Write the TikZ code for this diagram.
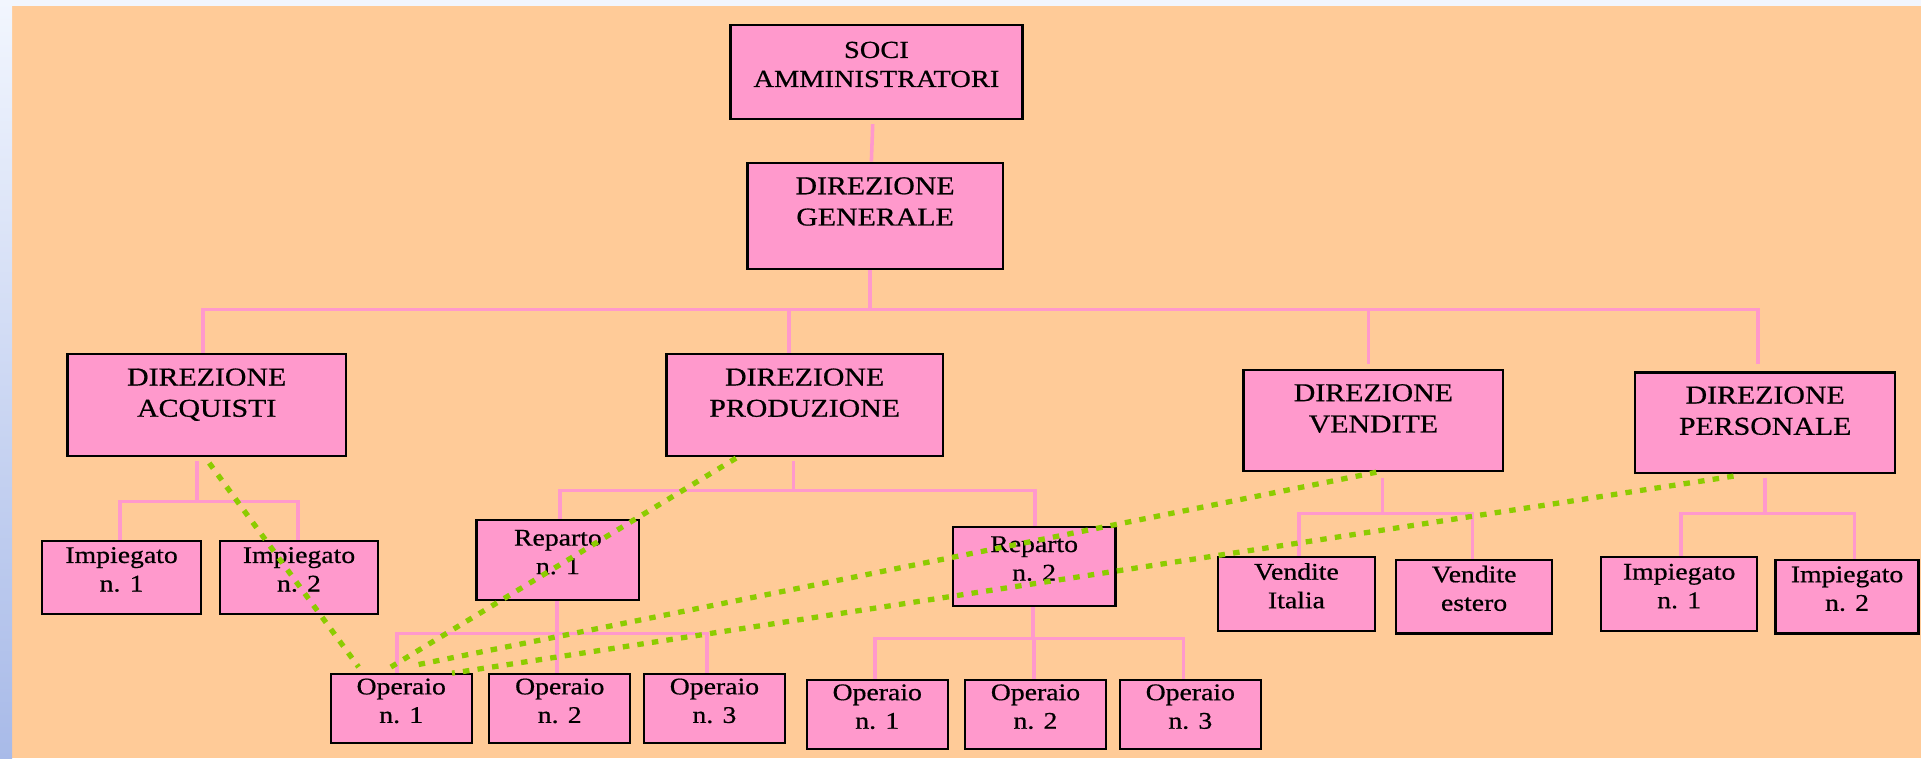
\documentclass[tikz,border=0pt]{standalone}
\usepackage{fontspec}
\setmainfont{Liberation Serif}[FakeStretch=1.16,FakeBold=0.6]
\usetikzlibrary{fit}
\definecolor{bgorange}{RGB}{255,203,152}
\definecolor{boxpink}{RGB}{255,153,204}
\definecolor{linkgreen}{RGB}{140,204,0}
\definecolor{stripTop}{RGB}{242,246,254}
\definecolor{stripBot}{RGB}{168,186,232}
\begin{document}
\begin{tikzpicture}[x=1pt,y=-1pt,
  box/.style={draw=black, line width=1.9pt, fill=boxpink, inner sep=0pt},
  smallbox/.style={box, align=center, font=\fontsize{19.5}{23.3}\selectfont},
  bigtxt/.style={inner sep=0pt, anchor=north, align=center, font=\fontsize{21}{25.5}\selectfont},
  conn/.style={draw=boxpink, line width=2.9pt},
  link/.style={draw=linkgreen, line width=4.3pt, dash pattern=on 5.3pt off 6.7pt},
]
% page background
\useasboundingbox (0,0) rectangle (1568,619);
\fill[bgorange] (0,0) rectangle (1568,619);
\shade[top color=stripTop, bottom color=stripBot] (0,0) rectangle (9.8,619);
\fill[stripTop] (9.8,0) rectangle (1568,4.7);

% bus levels of the tree
\coordinate (busMain) at (0,252.5);
\coordinate (busAcq)  at (0,409.5);
\coordinate (busProd) at (0,400.5);
\coordinate (busRep1) at (0,517);
\coordinate (busRep2) at (0,521);
\coordinate (busVend) at (0,419);
\coordinate (busPers) at (0,419);

% top management
\node[box, fit={(596.2,20.4) (834.5,97.4)}] (soci) {};
\node[bigtxt, font=\fontsize{20}{23.7}\selectfont] (soci-t) at ([yshift=-14.4pt]soci.north) {SOCI\\AMMINISTRATORI};
\node[box, fit={(610,132.8) (818.5,219.8)}] (dg) {};
\node[bigtxt] (dg-t) at ([yshift=-12.6pt]dg.north) {DIREZIONE\\GENERALE};

% directorates
\node[box, fit={(55,289) (282.4,372)}] (acq) {};
\node[bigtxt] (acq-t) at ([yshift=-12.5pt]acq.north) {DIREZIONE\\ACQUISTI};
\node[box, fit={(544,289) (769.6,372)}] (prod) {};
\node[bigtxt] (prod-t) at ([yshift=-12.5pt]prod.north) {DIREZIONE\\PRODUZIONE};
\node[box, fit={(1015,302) (1227,384.5)}] (vend) {};
\node[bigtxt] (vend-t) at ([yshift=-12.3pt]vend.north) {DIREZIONE\\VENDITE};
\node[box, fit={(1334.6,304) (1547,386)}] (pers) {};
\node[bigtxt] (pers-t) at ([yshift=-12.2pt]pers.north) {DIREZIONE\\PERSONALE};

% purchasing staff
\node[smallbox, fit={(34.5,441.6) (164,501)}] (impA1) {Impiegato\\n. 1};
\node[smallbox, fit={(179.5,441.6) (308.6,501)}] (impA2) {Impiegato\\n. 2};

% production departments
\node[smallbox, fit={(389,424.5) (521.8,489.7)}] (rep1) {Reparto\\n. 1};
\node[smallbox, fit={(777.6,430) (910.6,494.7)}] (rep2) {Reparto\\n. 2};
\node[smallbox, fit={(270,550.4) (385,606.7)}] (op11) {Operaio\\n. 1};
\node[smallbox, fit={(399.4,550.4) (514.4,606.7)}] (op12) {Operaio\\n. 2};
\node[smallbox, fit={(525.5,550.4) (640.8,606.7)}] (op13) {Operaio\\n. 3};
\node[smallbox, fit={(658.5,555) (773.6,611.6)}] (op21) {Operaio\\n. 1};
\node[smallbox, fit={(787.8,555) (902.6,611.6)}] (op22) {Operaio\\n. 2};
\node[smallbox, fit={(914.2,555) (1029,611.6)}] (op23) {Operaio\\n. 3};

% sales
\node[smallbox, fit={(994,454.8) (1122.4,515)}] (vit) {Vendite\\Italia};
\node[smallbox, fit={(1139.6,457) (1266.8,517)}] (vest) {Vendite\\estero};

% personnel staff
\node[smallbox, fit={(1306.9,454.8) (1434.3,515)}] (impP1) {Impiegato\\n. 1};
\node[smallbox, fit={(1449.3,457) (1566,517)}] (impP2) {Impiegato\\n. 2};

% hierarchy connectors
\draw[conn] ([xshift=-3pt,yshift=-3pt]soci.south) -- ([xshift=-3pt]dg.north);
\draw[conn] ([xshift=-4.3pt]dg.south) |- ([xshift=-2.8pt]acq.north |- busMain) -- ([xshift=-2.8pt]acq.north);
\draw[conn] ([xshift=-4.3pt]dg.south) |- ([xshift=-12.8pt]prod.north |- busMain) -- ([xshift=-12.8pt]prod.north);
\draw[conn, shorten >=4pt] ([xshift=-4.3pt]dg.south) |- ([xshift=-4pt]vend.north |- busMain) -- ([xshift=-4pt]vend.north);
\draw[conn, shorten >=6pt] ([xshift=-4.3pt]dg.south) |- ([xshift=-5.8pt]pers.north |- busMain) -- ([xshift=-5.8pt]pers.north);

\draw[conn] ([xshift=-8pt,yshift=-3.5pt]acq.south) |- ([xshift=-1.2pt]impA1.north |- busAcq) -- ([xshift=-1.2pt]impA1.north);
\draw[conn] ([xshift=-8pt,yshift=-3.5pt]acq.south) |- ([xshift=-1pt]impA2.north |- busAcq) -- ([xshift=-1pt]impA2.north);

\draw[conn] ([xshift=-9.3pt,yshift=-3.5pt]prod.south) |- ([xshift=1.6pt]rep1.north |- busProd) -- ([xshift=1.6pt]rep1.north);
\draw[conn] ([xshift=-9.3pt,yshift=-3.5pt]prod.south) |- ([xshift=0.9pt]rep2.north |- busProd) -- ([xshift=0.9pt]rep2.north);

\draw[conn] ([xshift=-0.9pt]rep1.south) |- ([xshift=-3.5pt]op11.north |- busRep1) -- ([xshift=-3.5pt]op11.north);
\draw[conn] ([xshift=-0.9pt]rep1.south) |- ([xshift=-2.4pt]op12.north |- busRep1) -- ([xshift=-2.4pt]op12.north);
\draw[conn] ([xshift=-0.9pt]rep1.south) |- ([xshift=-6.2pt]op13.north |- busRep1) -- ([xshift=-6.2pt]op13.north);

\draw[conn] ([xshift=-1pt]rep2.south) |- ([xshift=-2pt]op21.north |- busRep2) -- ([xshift=-2pt]op21.north);
\draw[conn] ([xshift=-1pt]rep2.south) |- ([xshift=-1.2pt]op22.north |- busRep2) -- ([xshift=-1.2pt]op22.north);
\draw[conn] ([xshift=-1pt]rep2.south) |- ([xshift=-5.6pt]op23.north |- busRep2) -- ([xshift=-5.6pt]op23.north);

\draw[conn] ([xshift=7.6pt,yshift=-4.5pt]vend.south) |- ([xshift=2.2pt]vit.north |- busVend) -- ([xshift=2.2pt]vit.north);
\draw[conn] ([xshift=7.6pt,yshift=-4.5pt]vend.south) |- ([xshift=-1.2pt]vest.north |- busVend) -- ([xshift=-1.2pt]vest.north);

\draw[conn] ([yshift=-3pt]pers.south) |- ([xshift=1.4pt]impP1.north |- busPers) -- ([xshift=1.4pt]impP1.north);
\draw[conn] ([yshift=-3pt]pers.south) |- ([xshift=5.9pt]impP2.north |- busPers) -- ([xshift=5.9pt]impP2.north);

% functional links to the first worker
\draw[link] ([xshift=2.1pt,yshift=-5pt]acq.south) -- ([xshift=-34.8pt,yshift=5pt]op11.north);
\draw[link] ([xshift=-56pt,yshift=-1pt]prod.south) -- ([xshift=-11.1pt,yshift=3.4pt]op11.north);
\draw[link] ([xshift=2.4pt]vend.south) -- ([xshift=10.9pt,yshift=6.4pt]op11.north);
\draw[link] ([xshift=-25.8pt,yshift=-1.7pt]pers.south) -- ([xshift=41.5pt]op11.north);
\end{tikzpicture}
\end{document}
